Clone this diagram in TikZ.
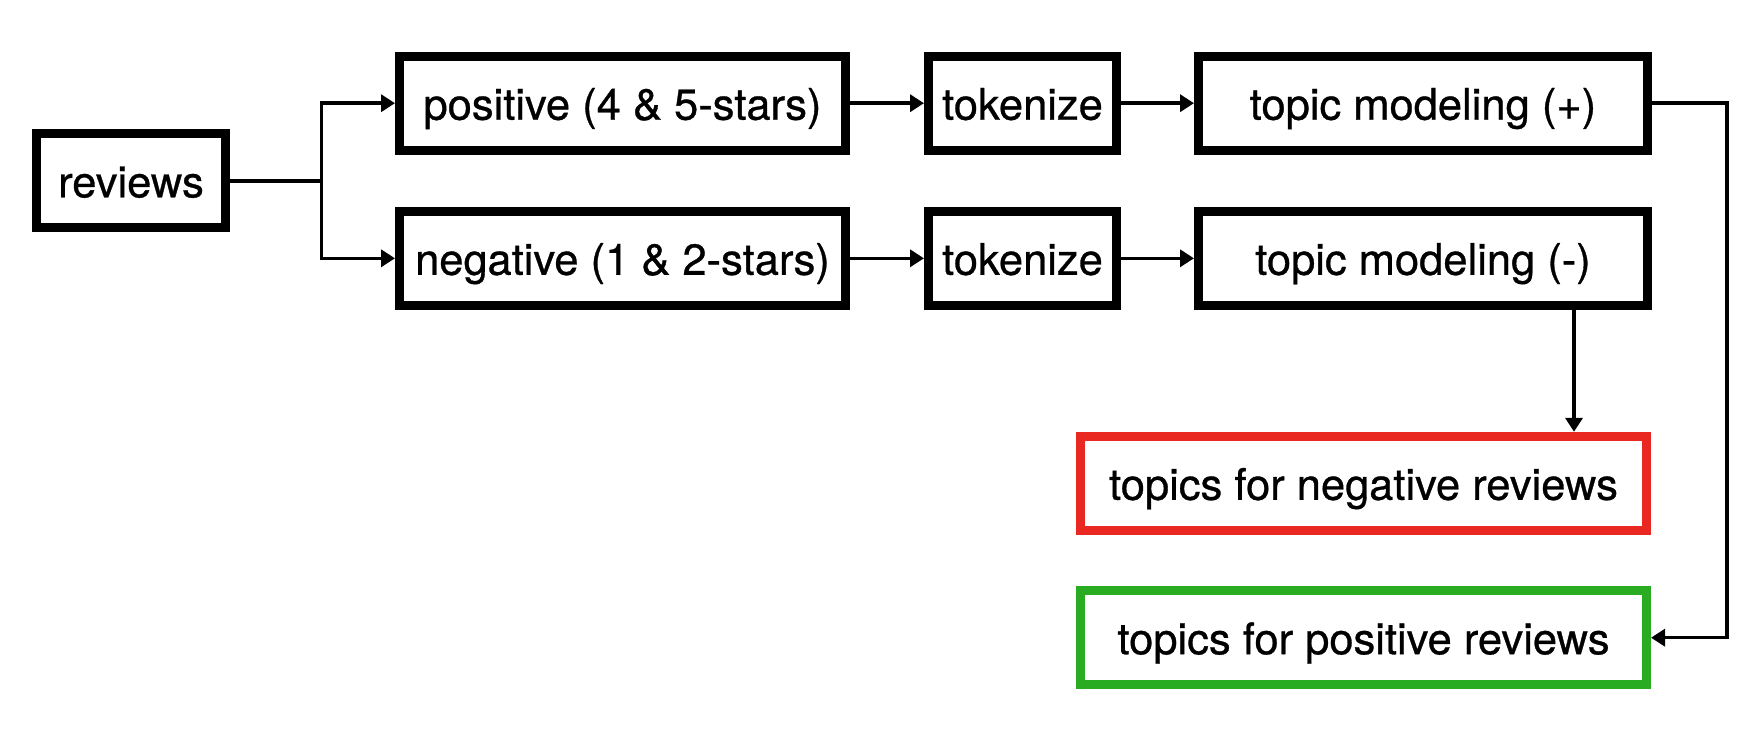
\documentclass[tikz,border=0pt]{standalone}
\usepackage{fontspec}
\setmainfont[FakeBold=0.7]{TeX Gyre Heros}
\usetikzlibrary{arrows.meta}
\definecolor{negred}{RGB}{234,40,34}
\definecolor{posgreen}{RGB}{42,172,34}
\begin{document}
\begin{tikzpicture}[x=1pt,y=-1pt,
  box/.style={draw,line width=9pt,minimum height=94pt,inner sep=0pt,
    text height=42pt,text depth=9pt,font=\fontsize{43.5}{50}\selectfont},
  flow/.style={line width=3.5pt,-{Triangle[length=14pt,width=17pt]}}]
\useasboundingbox (0,0) rectangle (1762,744);
\node[box,minimum width=189pt] (reviews) at (131,180.8) {reviews};
\node[box,minimum width=446pt] (pos) at (622.5,103.2) {positive (4 \& 5-stars)};
\node[box,minimum width=446pt] (neg) at (622.5,258.3) {negative (1 \& 2-stars)};
\node[box,minimum width=188pt] (tokpos) at (1022.5,103.2) {tokenize};
\node[box,minimum width=188pt] (tokneg) at (1022.5,258.3) {tokenize};
\node[box,minimum width=449pt] (tmpos) at (1423,103.2) {topic modeling (+)};
\node[box,minimum width=449pt] (tmneg) at (1423,258.3) {topic modeling (-)};
\node[box,draw=negred,minimum width=566pt] (topneg) at (1363.5,483.3) {topics for negative reviews};
\node[box,draw=posgreen,minimum width=566pt] (toppos) at (1363.5,637.7) {topics for positive reviews};
\coordinate (split) at (321.7,180.8);
\coordinate (bend) at (1727,103.2);
\draw[line width=3.5pt] (reviews.east) -- (split);
\draw[flow] (split) |- (pos.west);
\draw[flow] (split) |- (neg.west);
\draw[flow] (pos.east) -- (tokpos.west);
\draw[flow] (neg.east) -- (tokneg.west);
\draw[flow] (tokpos.east) -- (tmpos.west);
\draw[flow] (tokneg.east) -- (tmneg.west);
\draw[flow] ([xshift=151pt]tmneg.south) -- ([xshift=151pt]tmneg.south |- topneg.north);
\draw[flow] (tmpos.east) -- (bend) |- (toppos.east);
\end{tikzpicture}
\end{document}
